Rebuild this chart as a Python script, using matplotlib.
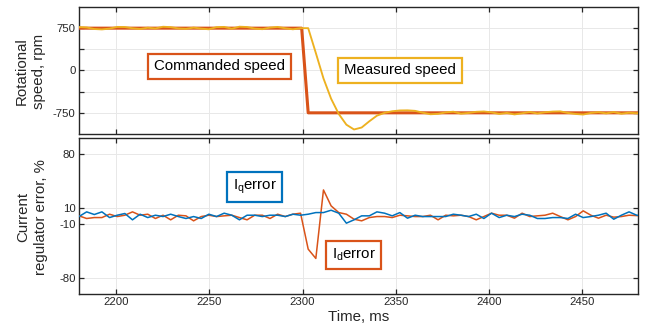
import numpy as np
import matplotlib
matplotlib.use('Agg')
import matplotlib.pyplot as plt

# sampled signals (4.1 ms step) -------------------------------------------------
t0, dt = 2180.0, 4.1

speed_meas = [770, 762, 735, 728, 742, 772, 770, 748, 735, 758,
              744, 775, 768, 745, 738, 760, 742, 730, 768, 772,
              740, 776, 770, 742, 732, 760, 772, 748, 730, 750,
              750, 310, -140, -500, -770, -960, -1045, -1010, -900, -800,
              -750, -722, -708, -706, -715, -748, -775, -768, -742, -730,
              -765, -752, -732, -726, -742, -770, -752, -778, -758, -735,
              -762, -740, -728, -724, -752, -770, -780, -752, -738, -760,
              -736, -766, -748, -758, -745]

cmd_t = [2180, 2299.5, 2303, 2480]
cmd_rpm = [750, 750, -750, -750]

id_err = [0.2, -3.2, -2.0, -2.0, 2.3, -0.7, 1.0, 5.3, 1.0, 2.3,
          -3.2, 1.0, -4.9, 1.0, 0.2, -6.2, -0.7, 1.0, -0.7, 0.2,
          1.0, -2.0, -4.9, 1.0, 1.0, -3.2, 2.3, -0.7, 2.3, 3.6,
          -42.5, -54.4, 33.4, 13.0, 4.4, 2.3, -4.1, -6.2, -2.0, -0.7,
          -0.7, -2.0, 1.0, 0.2, -0.7, -0.7, 1.0, -4.9, 1.0, 0.2,
          1.0, -0.7, -4.9, -0.7, 3.6, 1.0, 1.0, -2.8, 3.6, -0.7,
          0.2, 1.0, 3.6, -0.7, -4.9, -0.7, 6.6, 1.0, -2.8, 1.0,
          -1.5, -0.7, 1.0, 0.5, 0.0]

iq_err = [-0.7, 5.3, 1.9, 5.3, -2.0, 1.0, 3.2, -4.9, 2.3, -2.0,
          1.0, -0.7, 2.3, -0.7, -3.2, -0.7, -3.2, 2.3, -0.7, 3.6,
          1.0, -4.9, 1.0, 1.0, -0.7, 1.0, 1.0, -0.7, 2.3, 1.0,
          2.3, 4.4, 4.4, 7.4, 3.6, -9.2, -4.9, 0.2, 0.2, 5.3,
          3.6, 0.2, 4.4, -2.8, 1.0, -0.7, -0.7, -0.7, -0.7, 2.3,
          1.0, -0.7, 2.3, -3.2, 3.6, -2.0, 1.0, -0.7, 2.3, 1.0,
          -3.2, -3.2, -2.0, -2.0, -3.2, 2.3, -2.0, -0.7, 1.0, 3.6,
          -4.1, 1.0, 5.3, 1.0, 0.2]

x_ticks = [2200, 2250, 2300, 2350, 2400, 2450]
spd_ticks = [-750, -375, 0, 375, 750]
spd_labels = ['-750', '', '0', '', '750']
err_ticks = [-80, -10, 10, 80]

C_ORANGE = '#D95319'
C_YELLOW = '#EDB120'
C_BLUE = '#0072BD'

# style ------------------------------------------------------------------------
plt.rcParams['font.family'] = ['Liberation Sans', 'DejaVu Sans']
plt.rcParams['mathtext.fontset'] = 'custom'
plt.rcParams['mathtext.rm'] = 'Liberation Sans'

def style_axes(ax, xl, yl, yt, ytl):
    ax.set_xlim(xl)
    ax.set_ylim(yl)
    ax.set_xticks(x_ticks)
    ax.set_yticks(yt)
    ax.set_yticklabels(ytl)
    ax.tick_params(direction='in', length=3.6, width=0.9, top=True, right=True,
                   labelsize=8.2, colors='#262626', pad=2.5)
    ax.grid(True, color='#e8e8e8', lw=0.7)
    ax.set_axisbelow(True)
    for s in ax.spines.values():
        s.set_color('#262626')
        s.set_linewidth(1.0)

def box(ax, x, y, s, color):
    ax.text(x, y, s, ha='center', va='center', fontsize=10.8, color='black',
            zorder=5,
            bbox=dict(boxstyle='square,pad=0.38', fc='white', ec=color, lw=1.6))

# main -------------------------------------------------------------------------
fig = plt.figure(figsize=(6.46, 3.33), dpi=100)
ax1 = fig.add_axes((0.1223, 0.5976, 0.8653, 0.3814))
ax2 = fig.add_axes((0.1223, 0.1171, 0.8653, 0.4685))

t = t0 + dt * np.arange(len(speed_meas))
ti = t0 + dt * np.arange(len(id_err))

ax1.plot(cmd_t, cmd_rpm, color=C_ORANGE, lw=2.2, zorder=3)
ax1.plot(t, speed_meas, color=C_YELLOW, lw=1.35, zorder=4)
style_axes(ax1, [2180, 2480], [-1125, 1125], spd_ticks, spd_labels)
ax1.set_xticklabels([])
box(ax1, 2255.5, 76, 'Commanded speed', C_ORANGE)
box(ax1, 2352.2, 5, 'Measured speed', C_YELLOW)

ax2.plot(ti, id_err, color=C_ORANGE, lw=1.1, zorder=3)
ax2.plot(ti, iq_err, color=C_BLUE, lw=1.1, zorder=4)
style_axes(ax2, [2180, 2480], [-100, 100], err_ticks, [str(v) for v in err_ticks])
ax2.set_xticklabels([str(v) for v in x_ticks])
ax2.set_xlabel('Time, ms', fontsize=10.8, color='#262626', labelpad=2)
box(ax2, 2274.2, 37.5, r'$\mathregular{I_q}$error', C_BLUE)
box(ax2, 2327.4, -50, r'$\mathregular{I_d}$error', C_ORANGE)

fig.text(30 / 646, 1 - 71 / 333, 'Rotational\nspeed, rpm', rotation=90,
         ha='center', va='center', fontsize=10.8, color='#262626', linespacing=1.3)
fig.text(32 / 646, 1 - 217 / 333, 'Current\nregulator error, %', rotation=90,
         ha='center', va='center', fontsize=10.8, color='#262626', linespacing=1.3)

fig.savefig('out.png', dpi=100)
